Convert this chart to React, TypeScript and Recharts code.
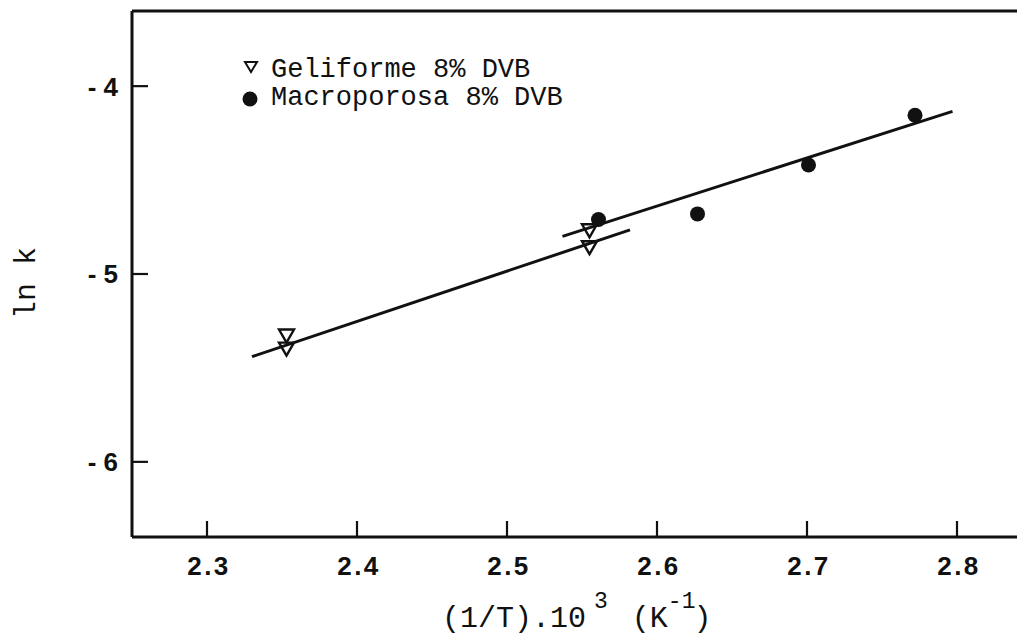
import { ScatterChart, Scatter, XAxis, YAxis, ReferenceLine, Legend } from "recharts";

// points
const gelX = [2.353, 2.353, 2.555, 2.555];
const gelY = [-5.33, -5.40, -4.77, -4.86];
const macX = [2.561, 2.627, 2.701, 2.772];
const macY = [-4.71, -4.68, -4.42, -4.155];

// fitted straight lines (end points)
const gelFitX = [2.33, 2.582];
const gelFitY = [-5.44, -4.765];
const macFitX = [2.537, 2.797];
const macFitY = [-4.8, -4.134];

const xTicks = [2.3, 2.4, 2.5, 2.6, 2.7, 2.8];
const yTicks = [-6, -5, -4];
const xDomain = [2.25, 2.85];
const yDomain = [-6.4, -3.6];

const seriesNames = ["Geliforme 8% DVB", "Macroporosa 8% DVB"];

const INK = "#111";
const MONO = "'Liberation Mono', 'DejaVu Sans Mono', monospace";
const SANS = "'Liberation Sans', Arial, sans-serif";

const toPoints = (xs: number[], ys: number[]) => xs.map((x, i) => ({ x, y: ys[i] }));

const gelData = toPoints(gelX, gelY);
const macData = toPoints(macX, macY);
const gelFit = toPoints(gelFitX, gelFitY);
const macFit = toPoints(macFitX, macFitY);

const X_MARGIN = 20;
const Y_MARGIN = 14;
const TICK_LEN = 16;

function XTick(props: any) {
  const { x, y, payload } = props;
  const axisY = y - X_MARGIN;
  return (
    <g>
      <line x1={x} x2={x} y1={axisY} y2={axisY - TICK_LEN} stroke={INK} strokeWidth={2.2} />
      <text x={x + 2} y={y} dy="0.71em" textAnchor="middle" fontFamily={SANS} fontWeight="bold"
        fontSize={26} letterSpacing={2.5} fill={INK}>
        {payload.value.toFixed(1)}
      </text>
    </g>
  );
}

function YTick(props: any) {
  const { x, y, payload } = props;
  const axisX = x + Y_MARGIN;
  return (
    <g>
      <line x1={axisX} x2={axisX + TICK_LEN} y1={y} y2={y} stroke={INK} strokeWidth={2.2} />
      <text x={x} y={y} dy="0.36em" textAnchor="end" fontFamily={SANS} fontWeight="bold"
        fontSize={26} fill={INK}>
        {`- ${Math.abs(payload.value)}`}
      </text>
    </g>
  );
}

function XTitle(props: any) {
  const vb = props.viewBox;
  const cx = vb.x + vb.width / 2;
  return (
    <text x={cx - 140} y={vb.y + 90} fontFamily={MONO} fontSize={30} fill={INK} style={{ whiteSpace: "pre" }}>
      <tspan>(1/T).10</tspan>
      <tspan dx={8} dy={-19} fontSize={23}>3</tspan>
      <tspan dx={6} dy={19}> (K</tspan>
      <tspan dy={-19} fontSize={23}>-1</tspan>
      <tspan dx={-2} dy={19}>)</tspan>
    </text>
  );
}

function YTitle(props: any) {
  const vb = props.viewBox;
  const cx = vb.x + 16;
  const cy = vb.y + vb.height / 2 + 9;
  return (
    <text x={cx} y={cy} transform={`rotate(-90 ${cx} ${cy})`} textAnchor="middle" dy="0.35em"
      fontFamily={MONO} fontSize={30} fill={INK}>
      ln k
    </text>
  );
}

function Triangle(props: any) {
  const { cx, cy } = props;
  if (cx == null || cy == null) return <g />;
  const w = 7.5, h = 6.5;
  return (
    <path d={`M${cx - w},${cy - h} L${cx + w},${cy - h} L${cx},${cy + h} Z`}
      fill="none" stroke={INK} strokeWidth={2.4} strokeLinejoin="miter" />
  );
}

function Dot(props: any) {
  const { cx, cy } = props;
  if (cx == null || cy == null) return <g />;
  return <circle cx={cx} cy={cy} r={7.5} fill={INK} />;
}

const NoShape = () => <g />;

function LegendBox() {
  return (
    <svg width={360} height={70} style={{ display: "block", overflow: "visible" }}>
      <path d="M15,12 L27,12 L21,22 Z" fill="none" stroke={INK} strokeWidth={2} />
      <text x={41} y={27} fontFamily={MONO} fontSize={27} fill={INK}>{seriesNames[0]}</text>
      <circle cx={20} cy={49} r={7.5} fill={INK} />
      <text x={41} y={55} fontFamily={MONO} fontSize={27} fill={INK}>{seriesNames[1]}</text>
    </svg>
  );
}

export default function App() {
  return (
    <div style={{ width: 1017, height: 635, overflow: "hidden", background: "#fff" }}>
      <ScatterChart width={1100} height={635} margin={{ top: 3, right: 76, bottom: 26, left: 0 }}>
        <XAxis
          type="number"
          dataKey="x"
          domain={xDomain}
          ticks={xTicks}
          allowDataOverflow
          height={80}
          tickSize={0}
          tickMargin={X_MARGIN}
          tick={(p: any) => <XTick {...p} />}
          axisLine={{ stroke: INK, strokeWidth: 3 }}
          label={(p: any) => <XTitle {...p} />}
        />
        <YAxis
          type="number"
          dataKey="y"
          domain={yDomain}
          ticks={yTicks}
          allowDataOverflow
          width={124}
          tickSize={0}
          tickMargin={Y_MARGIN}
          tick={(p: any) => <YTick {...p} />}
          axisLine={{ stroke: INK, strokeWidth: 3 }}
          label={(p: any) => <YTitle {...p} />}
        />
        <ReferenceLine y={yDomain[1]} stroke={INK} strokeWidth={3} />
        <Legend
          layout="vertical"
          verticalAlign="middle"
          align="center"
          content={() => <LegendBox />}
          wrapperStyle={{ position: "absolute", left: 222, top: 42, width: 360, height: 70 }}
        />
        <Scatter name="gelFit" data={gelFit} line={{ stroke: INK, strokeWidth: 3 }} shape={NoShape}
          legendType="none" isAnimationActive={false} />
        <Scatter name="macFit" data={macFit} line={{ stroke: INK, strokeWidth: 3 }} shape={NoShape}
          legendType="none" isAnimationActive={false} />
        <Scatter name={seriesNames[0]} data={gelData} shape={Triangle} isAnimationActive={false} />
        <Scatter name={seriesNames[1]} data={macData} shape={Dot} isAnimationActive={false} />
      </ScatterChart>
    </div>
  );
}
